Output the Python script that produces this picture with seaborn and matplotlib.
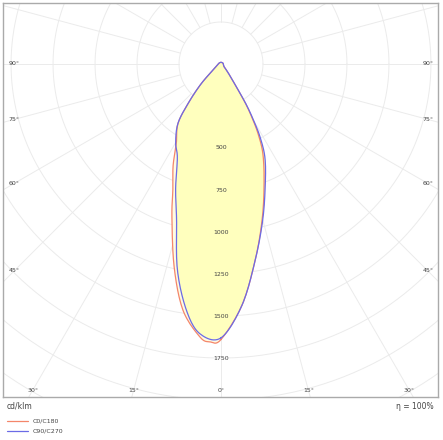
import numpy as np
import matplotlib
matplotlib.use("Agg")
import matplotlib.pyplot as plt
import seaborn as sns

# gamma angle (deg from nadir) and intensity (cd/klm)
gamma_c0 = [0, 5, 10, 15, 20, 25, 28, 30, 32, 35, 40, 45, 60, 90, 120, 180]
cd_c0 = [1640, 1440, 1180, 950, 750, 590, 470, 370, 270, 130, 60, 30, 18, 14, 12, 10]
gamma_c180 = [0, 2.3, 4.4, 8.8, 13, 17.8, 21, 25, 28, 30, 36, 40, 45, 53, 70, 90, 120, 180]
cd_c180 = [1640, 1655, 1630, 1482, 1240, 956, 800, 676, 580, 530, 435, 300, 170, 60, 25, 16, 12, 10]
gamma_c90 = [0, 5, 10, 15, 20, 25, 28, 30, 32, 35, 40, 45, 60, 90, 120, 180]
cd_c90 = [1630, 1440, 1180, 960, 770, 620, 500, 390, 280, 130, 60, 30, 18, 14, 12, 10]
gamma_c270 = [0, 4.5, 8, 12, 16, 20, 25, 30, 36, 40, 45, 53, 70, 90, 120, 180]
cd_c270 = [1630, 1610, 1480, 1250, 960, 790, 615, 540, 435, 300, 170, 60, 25, 16, 12, 10]

ring_values = [250, 500, 750, 1000, 1250, 1500, 1750]
angle_labels = [0, 15, 30, 45, 60, 75, 90]
eta_text = "η = 100%"
legend_names = ["C0/C180", "C90/C270"]

sns.set_style("white")
c_red = "#f4866a"
c_blue = "#6b6be6"
grid_c = "#ebebeb"
txt_c = "#444444"

fig = plt.figure(figsize=(4.43, 4.40), dpi=100)
ax = fig.add_axes([3 / 443, 43 / 440, 435 / 443, 394 / 440])
xmin, xmax = -1298, 1292
ymin, ymax = -1982, 363
ax.set_xlim(xmin, xmax)
ax.set_ylim(ymin, ymax)
ax.set_xticks([])
ax.set_yticks([])
for s in ax.spines.values():
    s.set_color("#aaaaaa")
    s.set_linewidth(1)


def to_xy(gam, cd, side):
    g = np.radians(np.asarray(gam, float))
    r = np.asarray(cd, float)
    return side * r * np.sin(g), -r * np.cos(g)


def smooth_closed(x, y, n=12):
    # Catmull-Rom drawing of a closed outline
    p = np.c_[x, y]
    m = len(p)
    out = []
    for i in range(m):
        p0, p1, p2, p3 = p[i - 1], p[i], p[(i + 1) % m], p[(i + 2) % m]
        for t in np.linspace(0, 1, n, endpoint=False):
            t2, t3 = t * t, t * t * t
            out.append(0.5 * (2 * p1 + (-p0 + p2) * t + (2 * p0 - 5 * p1 + 4 * p2 - p3) * t2
                              + (-p0 + 3 * p1 - 3 * p2 + p3) * t3))
    out.append(out[0])
    out = np.array(out)
    return out[:, 0], out[:, 1]


def closed(gr, cr, gl, cl):
    xr, yr = to_xy(gr, cr, 1)
    xl, yl = to_xy(gl, cl, -1)
    # drop duplicate nadir/zenith points from the left half
    return smooth_closed(np.r_[xr, xl[::-1][1:-1]], np.r_[yr, yl[::-1][1:-1]])


# grid
t = np.linspace(0, 2 * np.pi, 400)
for r in range(250, 3250, 250):
    ax.plot(r * np.cos(t), r * np.sin(t), color=grid_c, lw=0.7, zorder=1)
for a in range(0, 360, 15):
    ar = np.radians(a)
    ax.plot([250 * np.sin(ar), 3500 * np.sin(ar)], [-250 * np.cos(ar), -3500 * np.cos(ar)],
            color=grid_c, lw=0.7, zorder=1)

x1, y1 = closed(gamma_c0, cd_c0, gamma_c180, cd_c180)
x2, y2 = closed(gamma_c90, cd_c90, gamma_c270, cd_c270)
ax.fill(x1, y1, color="#fffbe2", zorder=2, lw=0)
ax.fill(x2, y2, color="#ffffbe", zorder=2, lw=0)
ax.plot(x1, y1, color=c_red, lw=0.9, zorder=3)
ax.plot(x2, y2, color=c_blue, lw=0.9, zorder=3)

for r in ring_values[1:]:
    ax.text(0, -r, str(r), ha="center", va="center", fontsize=4.5, color=txt_c, zorder=4)

for a in angle_labels:
    ar = np.radians(a)
    if a >= 45:
        y = -(xmax - 60) / np.tan(ar) if a < 90 else 0
        for sx in (-1, 1):
            ax.text(sx * (xmax - 60), y, f"{a}°", ha="center", va="center",
                    fontsize=4.5, color=txt_c, zorder=4)
    else:
        yb = ymin + 40
        x = -yb * np.tan(ar)
        for sx in ((1,) if a == 0 else (-1, 1)):
            ax.text(sx * x, yb, f"{a}°", ha="center", va="center",
                    fontsize=4.5, color=txt_c, zorder=4)

fig.text(7 / 443, 1 - 406 / 440, "cd/klm", fontsize=5.5, color=txt_c, va="center")
fig.text(434 / 443, 1 - 406 / 440, eta_text, fontsize=5.5, color=txt_c, va="center", ha="right")
for i, (name, c) in enumerate(zip(legend_names, [c_red, c_blue])):
    yy = 1 - (421 + 10 * i) / 440
    fig.add_artist(plt.Line2D([7 / 443, 28 / 443], [yy, yy], color=c, lw=0.9))
    fig.text(33 / 443, yy, name, fontsize=4.5, color=txt_c, va="center")

fig.savefig("out.png", dpi=100)
